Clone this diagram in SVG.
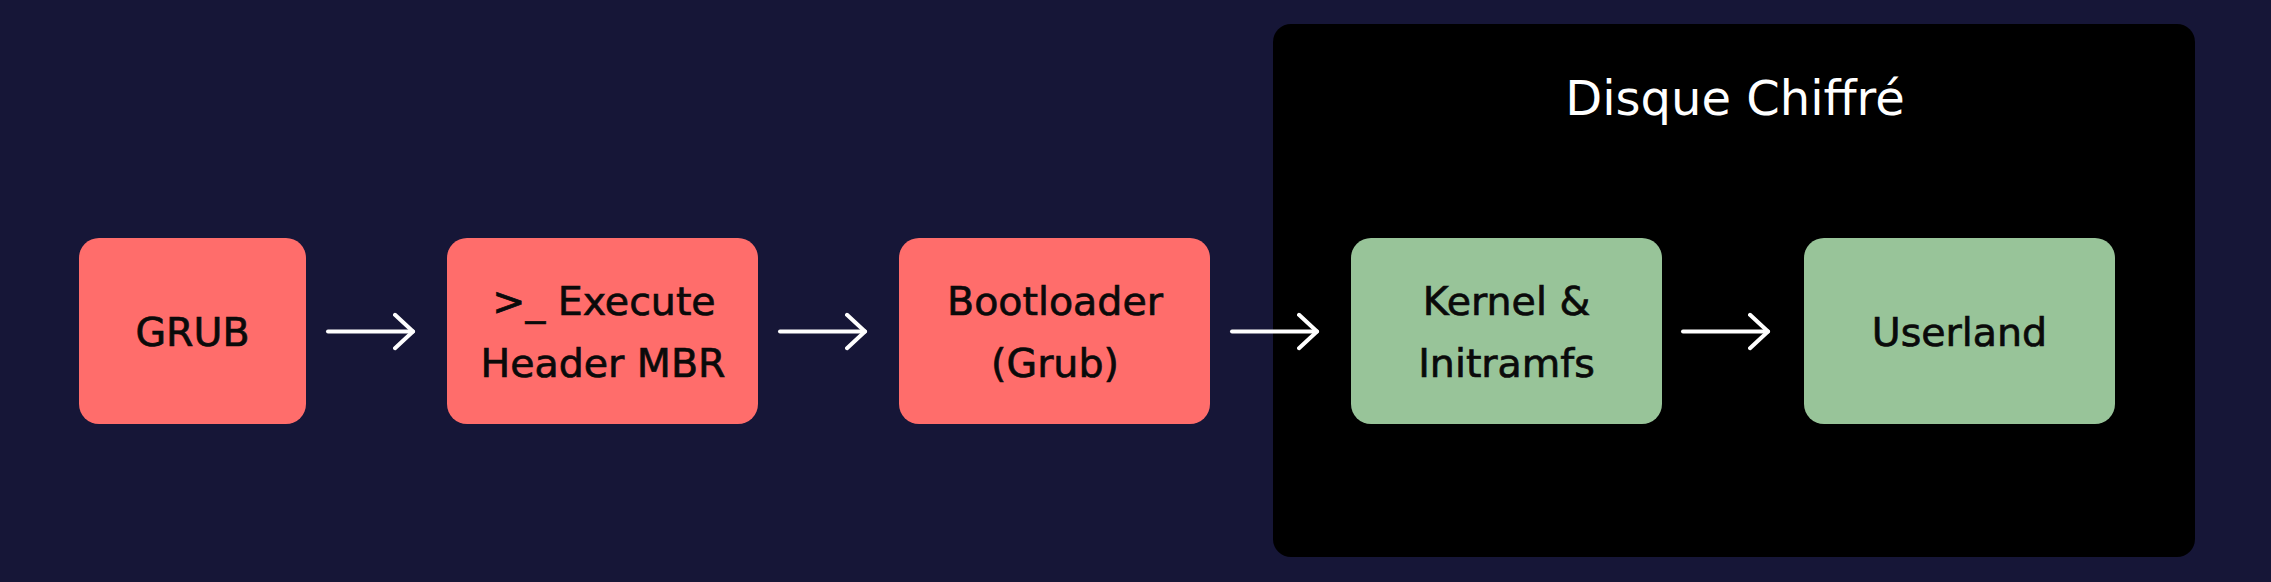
<svg xmlns="http://www.w3.org/2000/svg" width="2271" height="582" viewBox="0 0 2271 582">
  <style>
    .bg { fill: #161637; }
    .group { fill: #000000; }
    .red { fill: #ff6d6b; }
    .green { fill: #98c499; }
    .label { font-family: "DejaVu Sans", "Liberation Sans", sans-serif; font-size: 39.5px; fill: #0a0a0a; stroke: #0a0a0a; stroke-width: 0.7px; text-anchor: middle; }
    .title { font-family: "DejaVu Sans", "Liberation Sans", sans-serif; font-size: 48px; fill: #ffffff; text-anchor: middle; }
    .conn { fill: none; stroke: #ffffff; stroke-width: 4; stroke-linecap: round; }
  </style>
  <defs>
    <marker id="arrow" markerUnits="userSpaceOnUse" markerWidth="26" markerHeight="42" refX="20" refY="21" orient="auto">
      <path d="M2,4.3 L20,21 L2,37.7" fill="none" stroke="#ffffff" stroke-width="4" stroke-linecap="round" stroke-linejoin="round"/>
    </marker>
  </defs>

  <rect class="bg" x="0" y="0" width="2271" height="582"/>

  <g id="group-disque-chiffre">
    <rect class="group" x="1273" y="24" width="922" height="533" rx="18" ry="18"/>
    <text class="title" x="1735" y="115">Disque Chiffré</text>
  </g>

  <g id="node-grub">
    <rect class="red" x="79" y="238" width="227" height="186" rx="20" ry="20"/>
    <text class="label" x="192.5" y="346">GRUB</text>
  </g>

  <g id="node-execute">
    <rect class="red" x="447" y="238" width="311" height="186" rx="20" ry="20"/>
    <text class="label" x="604" y="315">&gt;_ Execute</text>
    <text class="label" x="603" y="377">Header MBR</text>
  </g>

  <g id="node-bootloader">
    <rect class="red" x="899" y="238" width="311" height="186" rx="20" ry="20"/>
    <text class="label" x="1055" y="315">Bootloader</text>
    <text class="label" x="1055" y="377">(Grub)</text>
  </g>

  <g id="node-kernel">
    <rect class="green" x="1351" y="238" width="311" height="186" rx="20" ry="20"/>
    <text class="label" x="1506.5" y="315">Kernel &amp;</text>
    <text class="label" x="1506.5" y="377">Initramfs</text>
  </g>

  <g id="node-userland">
    <rect class="green" x="1804" y="238" width="311" height="186" rx="20" ry="20"/>
    <text class="label" x="1959.5" y="346">Userland</text>
  </g>

  <g id="connectors">
    <path class="conn" d="M328,331.5 H413" marker-end="url(#arrow)"/>
    <path class="conn" d="M780,331.5 H865" marker-end="url(#arrow)"/>
    <path class="conn" d="M1232,331.5 H1317" marker-end="url(#arrow)"/>
    <path class="conn" d="M1683,331.5 H1768" marker-end="url(#arrow)"/>
  </g>
</svg>
